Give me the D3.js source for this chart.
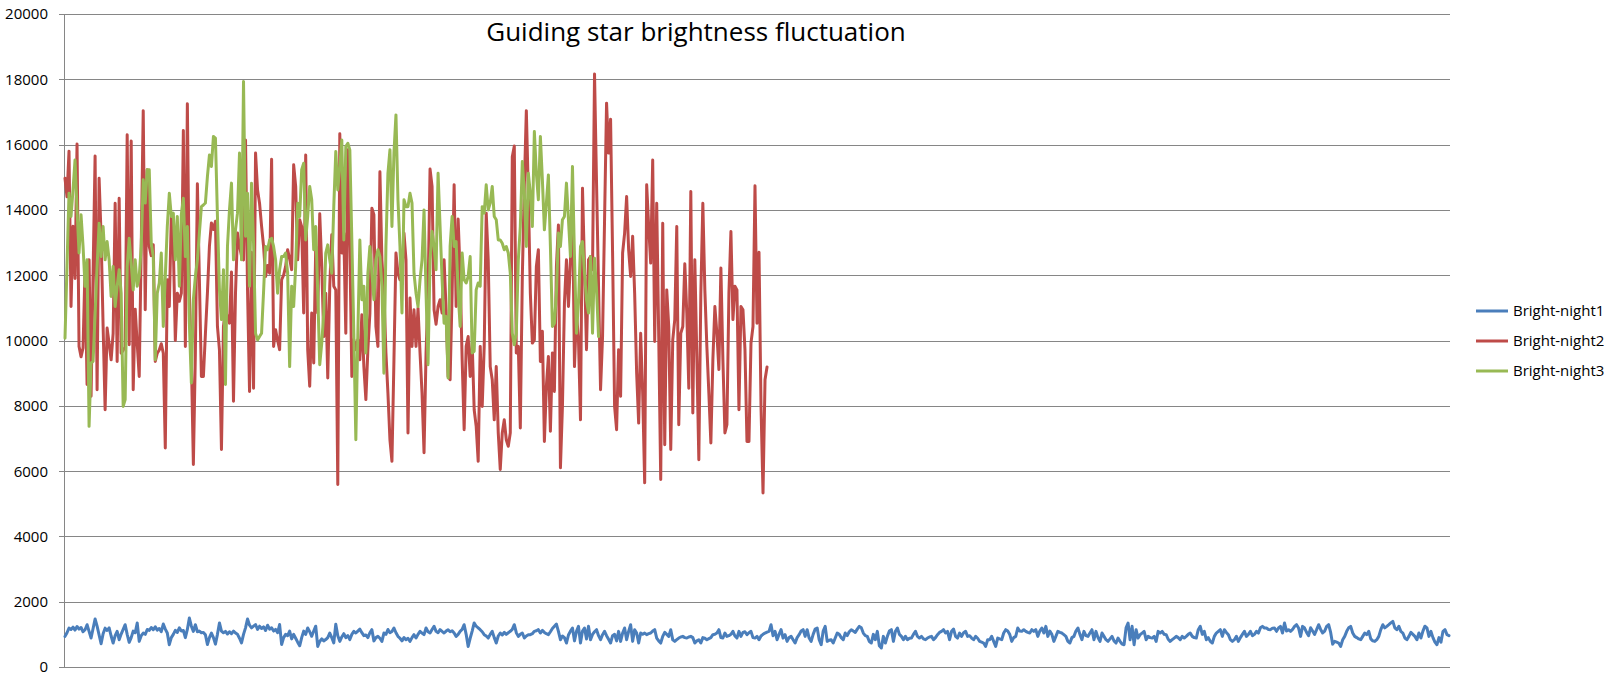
<!DOCTYPE html>
<html>
<head>
<meta charset="utf-8">
<script src="https://cdn.jsdelivr.net/npm/d3@7"></script>
<style>
  html, body { margin: 0; padding: 0; background: #fff; }
  svg { display: block; }
  text { font-family: "Open Sans", "Liberation Sans", sans-serif; }
</style>
</head>
<body>
<svg id="chart" width="1612" height="680"></svg>
<script>
const title = "Guiding star brightness fluctuation";
const seriesNames = ["Bright-night1", "Bright-night2", "Bright-night3"];
const seriesColors = ["#4A7EBB", "#BE4B48", "#98B954"];
const yTicks = [0, 2000, 4000, 6000, 8000, 10000, 12000, 14000, 16000, 18000, 20000];

const bright1 = [
938,1050,1194,1150,1220,1130,1240,1160,1210,1080,1140,1296,1090,887,1180,1470,1250,980,714,1020,
1190,1120,1200,950,734,960,1092,836,1010,1150,1296,1000,755,900,1100,1050,1347,785,960,1040,
1000,1150,1120,1210,1140,1230,1130,1180,1080,1316,1160,1040,683,900,1000,1120,1060,1200,1100,1120,
900,1150,1500,1250,1092,1296,1080,1100,1050,1060,990,690,900,1040,900,700,1000,1350,1100,1050,
1090,1010,1080,1020,1100,1040,1000,880,740,1000,1200,1470,1280,1200,1250,1300,1150,1250,1180,1230,
1120,1280,1160,1200,1100,1150,1050,1300,690,900,1000,960,1100,860,1000,880,760,650,900,1100,
1000,1194,1080,940,1100,1250,630,780,860,800,840,900,1040,900,740,1310,960,785,920,1020,
900,960,840,1000,1092,1040,1100,1160,1050,960,980,900,1050,1143,800,900,938,880,785,1040,
1000,1150,1050,1090,1194,1050,940,880,800,900,836,880,785,900,990,887,1000,1092,1040,990,
1194,1080,1040,1150,1245,1092,1050,1143,1090,1040,1100,1143,1080,1110,1040,938,1000,1092,1150,1296,
1000,630,880,1100,1350,1250,1200,1143,1080,990,950,887,1000,1092,900,734,950,1040,980,1060,
1000,1050,1092,1150,1296,1050,938,1000,1040,887,950,990,
990,1020,1092,1110,1143,1040,1120,1060,1020,990,1080,1180,1250,1316,1092,836,950,900,734,980,
1100,1194,800,1092,1245,734,1100,1194,860,1245,836,1000,1080,1143,960,836,990,1092,960,850,
734,960,1000,800,1092,785,1040,1194,836,1092,1296,785,1143,1040,734,1040,1000,1040,990,1020,
1040,1100,1143,887,800,734,938,1060,1000,938,1143,830,785,836,887,920,938,900,887,920,
938,900,734,800,836,734,900,880,836,870,900,990,1000,1040,1143,900,887,1040,938,960,
1000,1092,950,887,1092,938,1060,1080,990,1050,1092,900,887,938,836,950,1000,1040,1070,1092,
1296,960,1092,836,1000,1143,887,990,785,900,938,836,734,900,990,1100,1143,938,1143,887,
785,1000,1160,1194,836,683,1100,1245,785,820,836,734,887,1040,1000,900,836,1040,960,1080,
1143,1100,1060,1160,1245,1200,1040,960,938,780,734,1000,836,1092,650,581,938,734,938,1100,
1143,785,1092,1194,1000,938,836,938,836,880,887,1000,1092,938,887,938,860,836,887,920,
938,836,900,990,1060,1092,1143,1040,1092,836,1092,1160,938,887,1040,938,1050,1092,938,960,
887,836,938,880,785,760,734,632,836,
836,938,785,632,887,860,836,1040,1143,1100,1000,785,900,938,1194,1100,1092,1143,1092,1060,
1040,1143,1092,1143,938,1100,1194,1040,1245,938,1100,1000,785,938,1092,1060,1040,990,938,785,
734,900,938,1100,1194,1000,836,1092,960,938,1040,1143,836,1092,900,785,1040,938,836,785,
860,938,800,734,887,785,700,683,1200,1347,836,1245,683,1143,887,990,1040,1092,836,938,
900,887,938,785,1092,1040,1092,1000,990,850,785,836,887,938,900,836,938,887,938,1000,
1040,938,900,887,1143,1245,1000,1092,836,900,785,734,938,1040,1092,1143,938,1143,1060,990,
836,785,836,938,785,900,1000,1092,938,1000,1092,960,1000,1092,1040,1200,1245,1194,1194,1150,
1143,1190,1194,1092,1194,1245,1040,1347,1100,1143,1092,1150,1245,1296,1194,938,1245,1194,1060,960,
1200,1100,1000,1143,1296,1150,1040,1100,1245,1296,1060,700,785,760,734,632,836,938,1092,1200,
1245,1040,938,900,860,836,938,1040,990,1092,860,800,785,836,938,1143,1296,1200,1245,1296,
1350,1398,1200,1143,1245,1092,1040,887,836,938,1060,1000,938,836,1040,887,1100,1250,1200,938,
1092,900,760,683,900,760,1092,1143,990,960
];

const bright2 = [
14970,14400,15800,11040,13500,11900,16020,9820,9500,9770,12270,8650,12470,8290,12060,15650,8490,14970,13190,10430,
7880,10380,9900,9410,10220,14200,9360,14360,9610,9700,9800,16300,9870,16110,8490,10960,9900,8900,12880,17040,
10940,15230,12880,12600,12930,9360,9610,9710,9900,9610,6710,11860,11040,13800,12880,10000,11450,11200,11450,16430,
9820,17250,11450,9410,6200,9610,14800,11860,8900,8900,10200,11450,12880,13600,13400,13650,10430,9710,6660,10430,
10940,10700,10530,12100,8140,11450,13290,12880,12600,12470,16140,11550,8440,12700,8540,15740,14610,14200,13500,12880,
11960,12300,12060,15550,9820,10330,10000,9720,11860,12000,12270,12780,12500,12170,15380,14720,12470,
13700,13490,10840,15680,9720,8600,10840,9310,12880,10840,
13880,12270,10120,11450,8850,11660,13240,11660,11550,5590,
16330,12680,13290,10220,15840,12880,8900,10020,9720,10020,
9410,10790,9200,8190,9720,10840,14050,13850,10430,9820,
15170,12470,11450,9620,8390,6960,6300,9410,12680,12060,
11860,12000,13290,12470,7170,11300,9820,10940,9820,10990,9620,
8390,6560,9620,11450,15250,14720,10940,10500,11040,11250,10840,
12470,10940,8900,8800,11450,14770,11040,13720,12060,9410,
7270,9820,10120,8900,9920,7880,7370,6300,9820,7980,
9820,13900,12470,9200,8800,7570,9200,7170,6050,7170,
7570,6960,6760,7170,15630,15960,9620,9820,7320,11960,
14720,17040,14510,11450,9920,10020,12270,12780,
9360,10280,6910,8600,9510,7220,9620,8440,12270,13540,
6100,7980,11150,12470,11040,12470,14310,9200,10840,10020,
7570,14660,12270,9720,12470,12570,12170,18160,14820,11660,
8490,10120,13700,17270,15740,16780,12680,7980,7270,9720,
8290,12680,13290,14410,12780,11960,13190,11450,9000,7470,
10220,8390,5640,14770,13490,12370,15530,9970,14200,10120,
5740,13590,6810,11550,10430,6660,10020,10640,13490,7420,
10220,10430,12350,10840,8540,14560,7780,12470,9510,6350,
11450,14200,11550,9820,8390,6860,9410,11040,10220,9110,
12220,9410,7170,7420,11450,13340,10640,11660,11550,7880,
11040,10940,9720,6910,6910,9920,10430,14740,10530,12700,
7980,5330,8800,9190
];

const bright3 = [
10070,12300,14510,13800,14610,15530,14000,12680,13850,12880,11660,12470,7370,9310,9360,10800,12270,13590,12570,13490,
12470,13030,12470,11350,12270,11040,11660,12170,11450,7980,8190,12270,13130,12370,11550,12470,11660,11960,12880,14920,
14210,15230,15230,12980,12570,9410,11450,11760,12680,10430,11960,13490,14510,13800,13900,12470,13800,11660,13850,14360,
12570,13490,10530,8700,11250,11960,12470,13290,14100,14150,14210,15020,15680,15330,16250,16200,13800,11550,10640,12170,
8650,12880,14000,14820,12470,13390,13900,15740,12470,17930,13190,14510,11660,14820,12980,10220,10020,10120,10220,11500,
12880,12780,13080,13130,12880,12470,11450,12170,12570,12570,12680,12060,9200,11660,11040,12270,14200,
13800,15230,15430,13080,13800,14720,14310,12780,13490,11450,
9260,9920,10840,12680,12930,12470,12060,14100,15790,14610,
15330,16140,13080,15940,16040,15840,13080,10220,6960,10220,
13080,11250,11660,9620,12060,12880,12060,11250,12470,12780,
12570,11660,9000,12880,15120,15840,13490,15740,16910,14310,
12880,10840,14310,14100,14100,14510,14210,12060,11450,11040,
11860,12470,14000,11450,9260,12470,13340,12880,12170,15120,
13490,11860,10530,10740,8850,12880,13800,12880,13030,11450,
10430,12680,11860,11760,11960,12570,9620,9670,11550,11760,
11660,14100,13900,14770,14000,14210,14720,13800,13700,13080,
13080,12980,12780,12880,12680,12060,10220,9870,10220,12470,
13490,15480,14510,12880,15120,14510,13490,16400,
15120,14310,16250,14920,13390,14210,15070,12880,10430,10530,
11450,13290,12880,13700,13800,14820,13700,12570,15330,12570,
10220,11150,12880,13030,12060,11250,10840,12570,10220,12520,
11560,10120
];

const categories = bright1.map((_, i) => i + 1);
const seriesData = [bright1, bright2, bright3];

const svg = d3.select("#chart");
svg.append("rect").attr("width", 1612).attr("height", 680).attr("fill", "#fff");

const plot = { left: 64, right: 1450, top: 14, bottom: 667 };

const x = d3.scalePoint()
  .domain(categories)
  .range([plot.left, plot.right])
  .padding(0.5);

const y = d3.scaleLinear()
  .domain([0, 20000])
  .range([plot.bottom, plot.top]);

// gridlines
svg.append("g")
  .selectAll("line")
  .data(yTicks)
  .join("line")
  .attr("x1", plot.left - 5)
  .attr("x2", plot.right)
  .attr("y1", d => Math.round(y(d)) + 0.5)
  .attr("y2", d => Math.round(y(d)) + 0.5)
  .attr("stroke", "#868686")
  .attr("stroke-width", 1);

// y axis line
svg.append("line")
  .attr("x1", plot.left + 0.5).attr("x2", plot.left + 0.5)
  .attr("y1", plot.top).attr("y2", plot.bottom + 0.5)
  .attr("stroke", "#868686").attr("stroke-width", 1);

// y tick labels
svg.append("g")
  .selectAll("text")
  .data(yTicks)
  .join("text")
  .attr("x", 48)
  .attr("y", d => y(d))
  .attr("dy", "0.36em")
  .attr("text-anchor", "end")
  .attr("font-size", 15)
  .attr("fill", "#000")
  .text(d => d);

// lines
const line = d3.line()
  .x((d, i) => x(categories[i]))
  .y(d => y(d));

svg.append("g")
  .selectAll("path")
  .data(seriesData)
  .join("path")
  .attr("d", d => line(d))
  .attr("fill", "none")
  .attr("stroke", (d, i) => seriesColors[i])
  .attr("stroke-width", 3)
  .attr("stroke-linejoin", "round")
  .attr("stroke-linecap", "round");

// title
svg.append("text")
  .attr("x", 696)
  .attr("y", 41)
  .attr("text-anchor", "middle")
  .attr("font-size", 26)
  .attr("fill", "#000")
  .text(title);

// legend
const legend = svg.append("g");
const legendRows = legend.selectAll("g")
  .data(seriesNames)
  .join("g")
  .attr("transform", (d, i) => `translate(1476, ${311 + i * 30})`);
legendRows.append("line")
  .attr("x1", 0).attr("x2", 32)
  .attr("y1", 0).attr("y2", 0)
  .attr("stroke", (d, i) => seriesColors[i])
  .attr("stroke-width", 3);
legendRows.append("text")
  .attr("x", 37)
  .attr("y", 0)
  .attr("dy", "0.35em")
  .attr("font-size", 15)
  .attr("fill", "#000")
  .text(d => d);
</script>
</body>
</html>
